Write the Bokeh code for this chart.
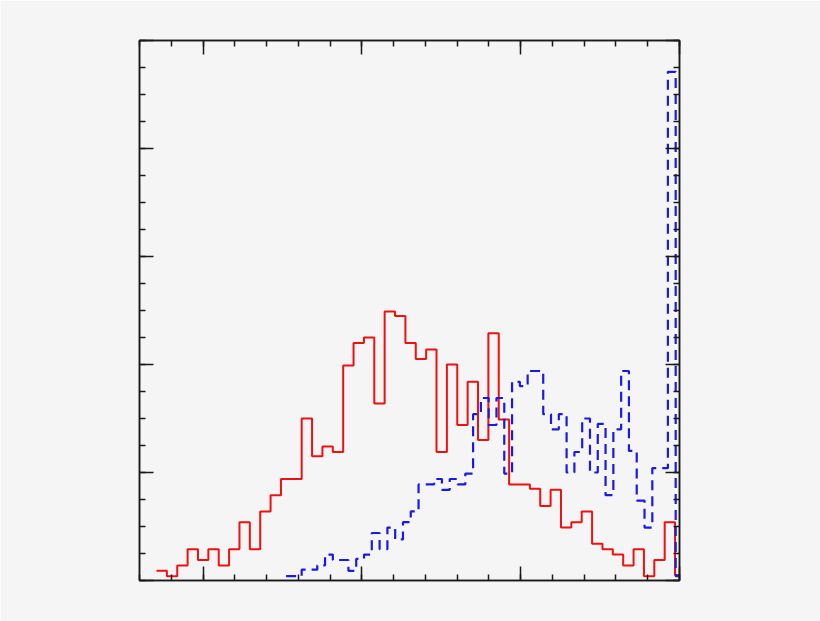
import numpy as np
from bokeh.plotting import figure
from bokeh.models import LinearAxis, FixedTicker, Range1d, CustomJSTickFormatter
from bokeh.embed import file_html
from bokeh.resources import INLINE

# ---- data ----
red_start = -0.293
red_width = 0.0653
red_values = [0.09, 0.04, 0.14, 0.29, 0.19, 0.29, 0.14, 0.29, 0.54, 0.29,
              0.64, 0.79, 0.94, 0.94, 1.50, 1.15, 1.24, 1.19, 1.99, 2.20,
              2.25, 1.64, 2.49, 2.45, 2.20, 2.05, 2.14, 1.19, 2.00, 1.44,
              1.84, 1.30, 2.29, 1.49, 0.89, 0.89, 0.85, 0.69, 0.84, 0.49,
              0.54, 0.64, 0.34, 0.29, 0.24, 0.14, 0.29, 0.04, 0.19, 0.54,
              0.05]

blue_start = 0.523
blue_width = 0.04906
blue_values = [0.04, 0.04, 0.10, 0.10, 0.14, 0.24, 0.19, 0.19, 0.09, 0.20,
               0.24, 0.44, 0.29, 0.49, 0.38, 0.54, 0.64, 0.89, 0.89, 0.94,
               0.84, 0.94, 0.89, 0.99, 1.54, 1.69, 1.44, 1.69, 0.99, 1.84,
               1.80, 1.94, 1.94, 1.54, 1.40, 1.54, 1.00, 1.19, 1.50, 1.00,
               1.45, 0.79, 1.40, 1.94, 1.20, 0.74, 0.49, 1.04, 1.04, 4.71,
               0.04]

x_major = [0, 1, 2, 3]
x_minor = [round(-0.4 + 0.2 * i, 2) for i in range(18)]
y_major = [0, 1, 2, 3, 4, 5]
y_minor = [0.25 * i for i in range(21)]

BG = "#f5f5f5"

p = figure(width=820, height=621, output_backend="svg", toolbar_location=None,
           x_range=Range1d(-0.4, 3.0), y_range=Range1d(0, 5),
           x_axis_location=None, y_axis_location=None,
           min_border_left=139, min_border_right=141,
           min_border_top=40, min_border_bottom=41)
p.background_fill_color = BG
p.border_fill_color = BG
p.outline_line_color = "#1a1a1a"
p.outline_line_width = 1.5
p.xgrid.visible = False
p.ygrid.visible = False


def make_axis(ticks, minor, loc):
    ax = LinearAxis(ticker=FixedTicker(ticks=ticks, minor_ticks=minor),
                    formatter=CustomJSTickFormatter(code="return '';"))
    ax.axis_line_color = "#1a1a1a"
    ax.axis_line_width = 1.5
    ax.major_tick_in = 14
    ax.major_tick_out = 0
    ax.minor_tick_in = 6
    ax.minor_tick_out = 0
    ax.major_tick_line_color = "#1a1a1a"
    ax.major_tick_line_width = 1.5
    ax.minor_tick_line_color = "#1a1a1a"
    ax.minor_tick_line_width = 1.5
    ax.major_label_standoff = 0
    p.add_layout(ax, loc)


make_axis(x_major, x_minor, "below")
make_axis(x_major, x_minor, "above")
make_axis(y_major, y_minor, "left")
make_axis(y_major, y_minor, "right")


def step_xy(start, width, vals):
    edges = start + width * np.arange(len(vals) + 1)
    ys = list(vals) + [vals[-1]]
    return edges, ys


rx, ry = step_xy(red_start, red_width, red_values)
bx, by = step_xy(blue_start, blue_width, blue_values)

p.step(rx, ry, mode="after", line_color="#ee1111", line_width=2)
p.step(bx, by, mode="after", line_color="#1a1ae6", line_width=2.2,
       line_dash="10 6")

open("out.html", "w").write(file_html(p, INLINE))
